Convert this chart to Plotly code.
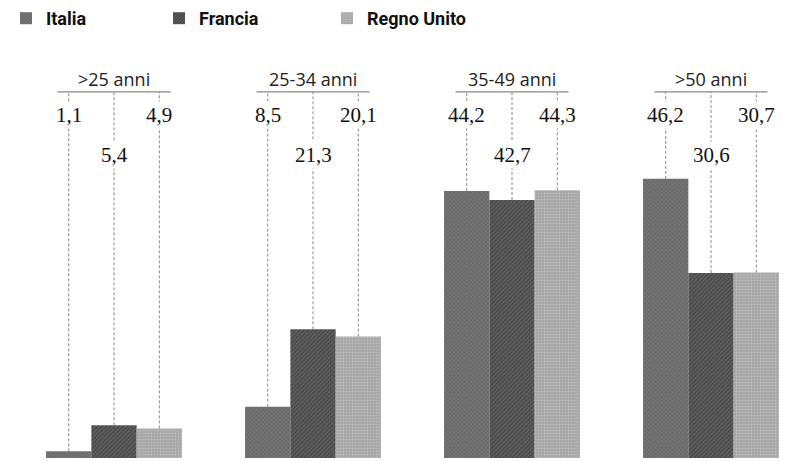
import plotly.graph_objects as go

categories = [">25 anni", "25-34 anni", "35-49 anni", ">50 anni"]
series_names = ["Italia", "Francia", "Regno Unito"]
italia = [1.1, 8.5, 44.2, 46.2]
francia = [5.4, 21.3, 42.7, 30.6]
regno_unito = [4.9, 20.1, 44.3, 30.7]
values = [italia, francia, regno_unito]

styles = [
    dict(color="#6a6a6a", pattern=dict(shape="x", fgcolor="#9a9a9a", size=3, solidity=0.3)),
    dict(color="#4a4a4a", pattern=dict(shape="/", fgcolor="#8c8c8c", size=3, solidity=0.3)),
    dict(color="#a4a4a4", pattern=dict(shape=".", fgcolor="#d4d4d4", size=3, solidity=0.4)),
]
legend_ids = ["legend", "legend2", "legend3"]
legend_x = [6, 159, 327]

fig = go.Figure()
for name, vals, st, lid in zip(series_names, values, styles, legend_ids):
    fig.add_trace(go.Bar(
        x=categories, y=vals, name=name, legend=lid,
        marker=dict(color=st["color"], pattern=st["pattern"], line=dict(width=0)),
        hoverinfo="skip",
    ))

bargap = 0.317
bw = (1 - bargap) / 3
y_line = 60.6
y_group = 62.8
y_lab_hi = 56.8
y_lab_lo = 50.2

shapes = []
annotations = []
for i, cat in enumerate(categories):
    shapes.append(dict(type="line", xref="x", yref="y", x0=i - 0.284, x1=i + 0.284,
                       y0=y_line, y1=y_line, line=dict(color="#888888", width=1.2)))
    annotations.append(dict(x=i, y=y_group, xref="x", yref="y", text=cat, showarrow=False,
                            font=dict(family="Open Sans", size=18, color="#222")))
    for j, vals in enumerate(values):
        xc = i + (j - 1) * bw
        shapes.append(dict(type="line", xref="x", yref="y", x0=xc, x1=xc,
                           y0=vals[i], y1=y_line,
                           line=dict(color="#8a8a8a", width=1, dash="3px,2px"), layer="below"))
        ly = y_lab_lo if j == 1 else y_lab_hi
        annotations.append(dict(x=xc, y=ly, xref="x", yref="y",
                                text=f"{vals[i]:.1f}".replace(".", ","), showarrow=False,
                                bgcolor="white", borderpad=1,
                                font=dict(family="Liberation Serif", size=21, color="#111")))

legend_common = dict(orientation="h", y=1.0, xanchor="left", yanchor="top",
                     font=dict(family="Roboto", size=18, color="#111", weight="bold"),
                     itemwidth=30, bgcolor="rgba(0,0,0,0)")

fig.update_layout(
    width=790, height=461,
    margin=dict(l=0, r=0, t=0, b=3),
    plot_bgcolor="white", paper_bgcolor="white",
    barmode="group", bargap=bargap, bargroupgap=0,
    xaxis=dict(range=[-0.573, 3.397], showticklabels=False, showgrid=False,
               zeroline=False, showline=False, ticks=""),
    yaxis=dict(range=[0, 75.8], showticklabels=False, showgrid=False,
               zeroline=False, showline=False, ticks=""),
    shapes=shapes, annotations=annotations,
    legend=dict(x=legend_x[0] / 790, **legend_common),
    legend2=dict(x=legend_x[1] / 790, **legend_common),
    legend3=dict(x=legend_x[2] / 790, **legend_common),
    showlegend=True,
)

fig.write_html("out.html")
